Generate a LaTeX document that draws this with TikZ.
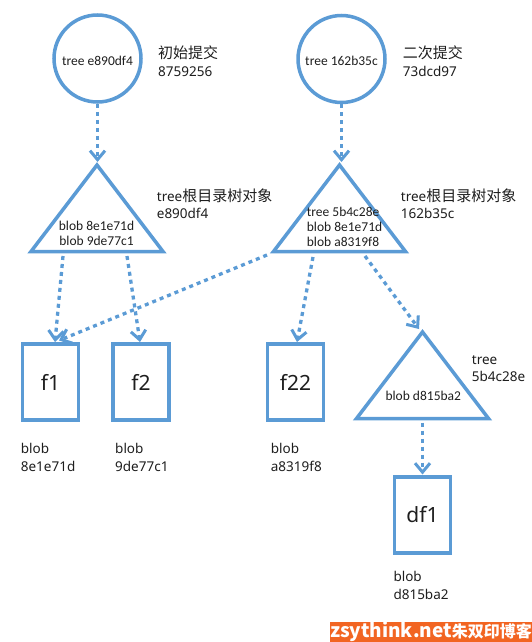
\documentclass[tikz,border=0pt]{standalone}
\usepackage{fontspec}
\setmainfont{Carlito}
\newfontfamily\lat{Noto Sans}
\newfontfamily\cjk{Noto Sans CJK SC}
\usetikzlibrary{arrows.meta}
\definecolor{lblue}{HTML}{5B9BD5}
\definecolor{worange}{HTML}{F26522}
\definecolor{txt}{HTML}{1E1E1E}
\newcommand{\zh}[1]{{\cjk\fontsize{15}{18}\selectfont #1}}
\begin{document}
\begin{tikzpicture}[x=1pt,y=-1pt,
  shapeline/.style={draw=lblue,line width=3.5pt},
  link/.style={draw=lblue,line width=3.3pt,dash pattern=on 4pt off 4pt,
    -{Straight Barb[length=9pt,width=15pt,line width=3pt]}},
  commit/.style={circle,shapeline,minimum size=87pt,inner sep=0pt,
    font=\fontsize{13.5}{15}\selectfont,text=txt,text height=14pt,text depth=0pt},
  blobbox/.style={rectangle,shapeline,minimum width=56pt,minimum height=76pt,
    inner sep=0pt,font=\lat\fontsize{21}{24}\selectfont,text=txt},
  intxt/.style={inner sep=0pt,anchor=base,font=\fontsize{13.5}{15}\selectfont,text=txt},
  intxtl/.style={intxt,anchor=base west},
  lbl/.style={inner sep=0pt,anchor=base west,font=\lat\fontsize{13.5}{16}\selectfont,text=txt}]
\useasboundingbox (0,0) rectangle (532,642);

% commits
\node[commit] (c1) at (97.5,58.5) {tree e890df4};
\node[commit] (c2) at (341.5,59) {tree 162b35c};
\node[lbl] (lc1a) at (158,58.7) {\zh{初始提交}};
\node[lbl] (lc1b) at (158,76.7) {8759256};
\node[lbl] (lc2a) at (402.7,58.7) {\zh{二次提交}};
\node[lbl] (lc2b) at (402.7,76.7) {73dcd97};

% trees
\coordinate (t1a) at (97,165);
\coordinate (t1l) at (31,251.5);
\coordinate (t1r) at (163,251.5);
\draw[shapeline] (t1a) -- (t1l) -- (t1r) -- cycle;
\coordinate (t2a) at (339.5,165);
\coordinate (t2l) at (273.5,251.5);
\coordinate (t2r) at (405.5,251.5);
\draw[shapeline] (t2a) -- (t2l) -- (t2r) -- cycle;
\coordinate (t3a) at (422.5,332);
\coordinate (t3l) at (356.5,418.5);
\coordinate (t3r) at (488.5,418.5);
\draw[shapeline] (t3a) -- (t3l) -- (t3r) -- cycle;

\node[intxt] (t1x1) at (96.5,230) {blob 8e1e71d};
\node[intxt] (t1x2) at (96.5,245) {blob 9de77c1};
\node[intxtl] (t2x1) at (306.7,216.7) {tree 5b4c28e};
\node[intxtl] (t2x2) at (306.7,231.7) {blob 8e1e71d};
\node[intxtl] (t2x3) at (306.7,246.7) {blob a8319f8};
\node[intxt] (t3x1) at (423.3,400) {blob d815ba2};

\node[lbl] (lt1a) at (156.7,201) {tree\zh{根目录树对象}};
\node[lbl] (lt1b) at (156.7,218.5) {e890df4};
\node[lbl] (lt2a) at (400.7,201) {tree\zh{根目录树对象}};
\node[lbl] (lt2b) at (400.7,218.5) {162b35c};
\node[lbl] (lt3a) at (471.7,364.3) {tree};
\node[lbl] (lt3b) at (471.7,381.7) {5b4c28e};

% blobs
\node[blobbox] (f1) at (50.5,382.2) {f1};
\node[blobbox] (f2) at (141,382.2) {f2};
\node[blobbox] (f22) at (295.5,382.2) {f22};
\node[blobbox] (df1) at (422.5,515) {df1};

\node[lbl] (lf1a) at (20.7,453.3) {blob};
\node[lbl] (lf1b) at (20.7,471) {8e1e71d};
\node[lbl] (lf2a) at (115,453.3) {blob};
\node[lbl] (lf2b) at (115,471) {9de77c1};
\node[lbl] (lf22a) at (270.7,453.3) {blob};
\node[lbl] (lf22b) at (270.7,471) {a8319f8};
\node[lbl] (ldf1a) at (393.3,581.7) {blob};
\node[lbl] (ldf1b) at (393.3,599.3) {d815ba2};

% connectors
\coordinate (e0a) at (97.5,162);
\coordinate (e0b) at (341.5,162);
\draw[link] (c1.south) -- (e0a);
\draw[link] (c2.south) -- (e0b);

\coordinate (s1) at (63,256);
\coordinate (e1) at (55,342);
\draw[link] (s1) -- (e1);
\coordinate (s2) at (127,256);
\coordinate (e2) at (140,342);
\draw[link] (s2) -- (e2);
\coordinate (s3) at (267,255);
\coordinate (e3) at (59,340.5);
\draw[link] (s3) -- (e3);
\coordinate (s4) at (313,257);
\coordinate (e4) at (297,342);
\draw[link] (s4) -- (e4);
\coordinate (s5) at (365,256);
\coordinate (e5) at (419,329);
\draw[link] (s5) -- (e5);
\coordinate (s6) at (422.5,422.5);
\coordinate (e6) at (422.5,474.5);
\draw[link] (s6) -- (e6);

% watermark
\node[fill=worange,text=white,inner sep=0pt,minimum width=197pt,minimum height=19pt,
  anchor=south east,font=\cjk\bfseries\fontsize{19}{19}\selectfont] (wm) at (532,642)
  {zsythink.net{\fontsize{16}{19}\selectfont 朱双印博客}};
\end{tikzpicture}
\end{document}
